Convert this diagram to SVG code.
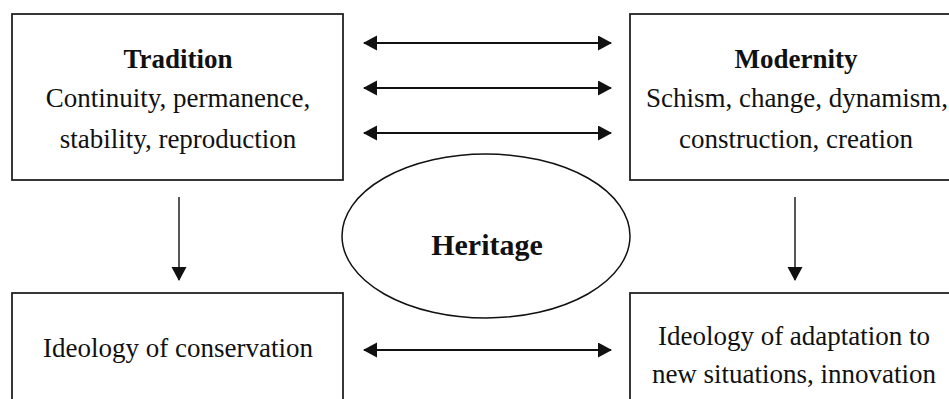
<svg xmlns="http://www.w3.org/2000/svg" width="949" height="399" viewBox="0 0 949 399">
<style>
.box{fill:#fff;stroke:#222;stroke-width:1.8}
.t{font-family:"Liberation Serif","Times New Roman",serif;fill:#111;text-anchor:middle}
.b{font-weight:bold}
.h{stroke:#111;stroke-width:2.2;fill:none}
.v{stroke:#111;stroke-width:1.4;fill:none}
</style>
<defs>
<marker id="ah" markerUnits="userSpaceOnUse" markerWidth="14" markerHeight="16" refX="13" refY="7.5" orient="auto-start-reverse" viewBox="0 0 14 16">
<path d="M0,0 L14,7.5 L0,15 z" fill="#111"/>
</marker>
</defs>
<rect width="949" height="399" fill="#fff"/>
<g id="tradition">
<rect class="box" x="12" y="14" width="331" height="166"/>
<text class="t b" x="178" y="68" font-size="27">Tradition</text>
<text class="t" x="178" y="107" font-size="27">Continuity, permanence,</text>
<text class="t" x="178" y="148" font-size="27">stability, reproduction</text>
</g>
<g id="modernity">
<rect class="box" x="630" y="14" width="340" height="166"/>
<text class="t b" x="796" y="68" font-size="27">Modernity</text>
<text class="t" x="797" y="107" font-size="27">Schism, change, dynamism,</text>
<text class="t" x="796" y="148" font-size="27">construction, creation</text>
</g>
<g id="heritage">
<ellipse cx="486" cy="236" rx="144" ry="82" fill="#fff" stroke="#111" stroke-width="1.5"/>
<text class="t b" x="487" y="255" font-size="30">Heritage</text>
</g>
<g id="conservation">
<rect class="box" x="12" y="293" width="331" height="130"/>
<text class="t" x="178" y="357" font-size="27">Ideology of conservation</text>
</g>
<g id="adaptation">
<rect class="box" x="630" y="293" width="340" height="130"/>
<text class="t" x="794" y="345" font-size="27">Ideology of adaptation to</text>
<text class="t" x="794" y="383" font-size="27">new situations, innovation</text>
</g>
<g id="connectors">
<line class="h" x1="364" y1="43" x2="611" y2="43" marker-start="url(#ah)" marker-end="url(#ah)"/>
<line class="h" x1="364" y1="88" x2="611" y2="88" marker-start="url(#ah)" marker-end="url(#ah)"/>
<line class="h" x1="364" y1="133" x2="611" y2="133" marker-start="url(#ah)" marker-end="url(#ah)"/>
<line class="h" x1="364" y1="350" x2="611" y2="350" marker-start="url(#ah)" marker-end="url(#ah)"/>
<line class="v" x1="179" y1="197" x2="179" y2="280" marker-end="url(#ah)"/>
<line class="v" x1="795" y1="197" x2="795" y2="280" marker-end="url(#ah)"/>
</g>
</svg>
